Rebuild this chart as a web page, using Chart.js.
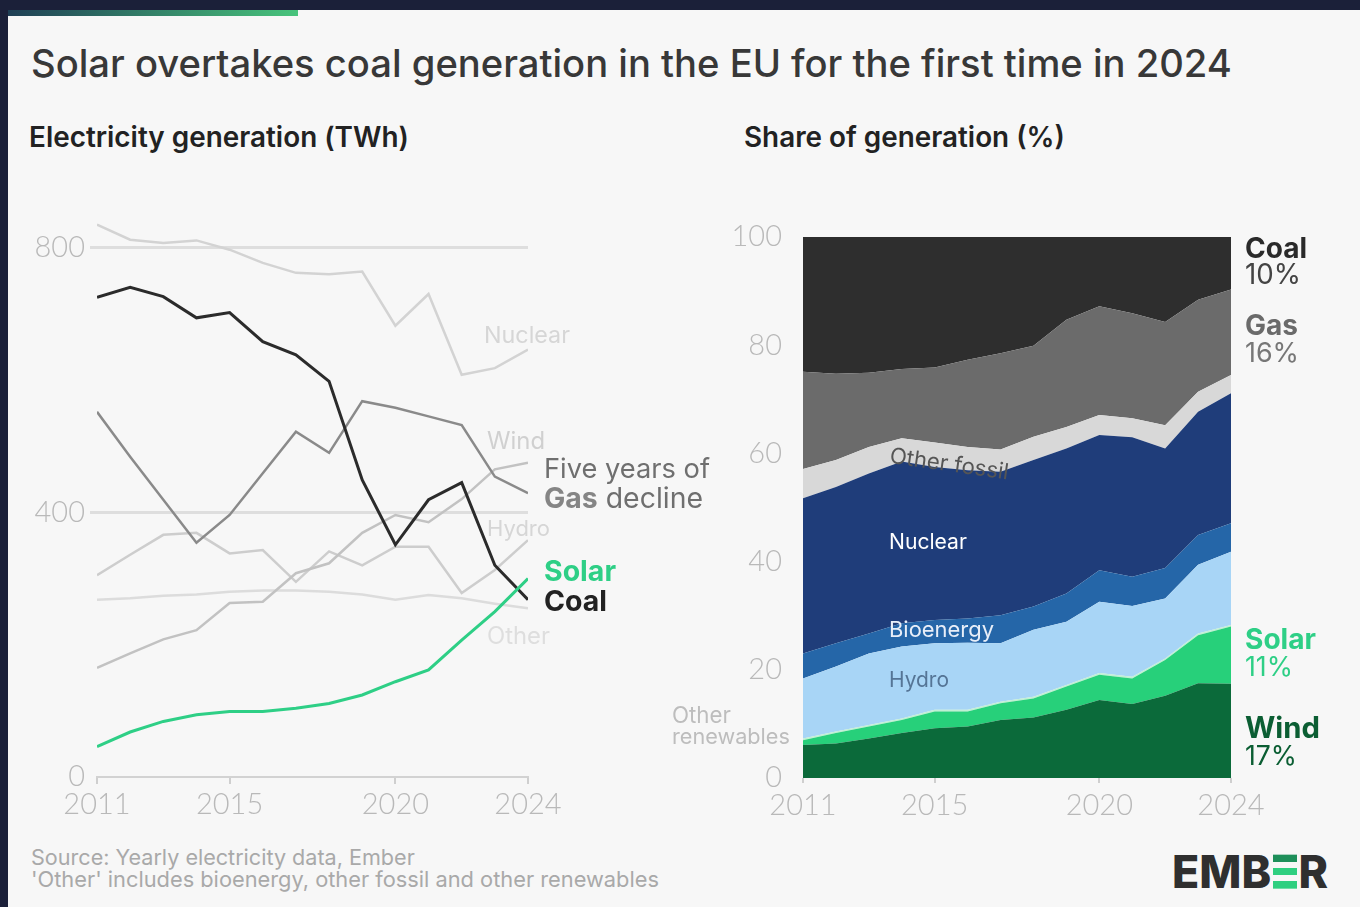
<!DOCTYPE html>
<html>
<head>
<meta charset="utf-8">
<script src="https://cdn.jsdelivr.net/npm/chart.js@4.4.1/dist/chart.umd.min.js"></script>
<style>
  html,body{margin:0;padding:0;}
  body{width:1360px;height:907px;background:#1b2039;position:relative;overflow:hidden;font-family:Inter, "Noto Sans", sans-serif;}
  #card{position:absolute;left:8px;top:10px;width:1352px;height:897px;background:#f7f7f7;}
  #bar{position:absolute;left:8px;top:10px;width:290px;height:6px;background:linear-gradient(90deg,#1f3f55,#48c47c);}
  .t{position:absolute;white-space:nowrap;line-height:1;transform:translateY(-50%);}
  canvas{position:absolute;}
  .logoE{position:relative;color:transparent;}
  .logoE::after{content:"";position:absolute;left:2px;right:1px;top:18%;bottom:18%;
    background:linear-gradient(180deg,#1e8f5a 0 22%,transparent 22% 39%,#2fcf80 39% 61%,transparent 61% 78%,#2fcf80 78% 100%);}
</style>
</head>
<body>
<div id="card"></div>
<div id="bar"></div>
<canvas id="left" width="620" height="660" style="left:0px;top:180px;"></canvas>
<canvas id="right" width="700" height="640" style="left:660px;top:200px;"></canvas>
<div id="texts"></div>
<script>
// ---------- data ----------
const years = [2011,2012,2013,2014,2015,2016,2017,2018,2019,2020,2021,2022,2023,2024];
const tickYears = [2011,2015,2020,2024];
const twhTicks = [0,400,800];
const shareTicks = [0,20,40,60,80,100];

// Electricity generation (TWh)
const nuclearTWh = [835,812,807,811,797,777,762,760,764,682,730,608,618,646];
const coalTWh    = [725,740,726,694,702,658,638,598,449,351,419,445,320,268];
const gasTWh     = [552,484,419,354,396,459,522,490,568,558,545,532,454,429];
const windTWh    = [165,187,208,222,263,265,308,323,369,396,385,420,465,475];
const hydroTWh   = [305,336,366,369,338,343,295,341,320,348,348,278,313,358];
const otherTWh   = [268,270,274,276,280,282,282,280,276,268,275,270,262,255];
const solarTWh   = [46,68,84,94,99,99,104,111,124,144,162,207,250,300];

// Share of generation (%)
const windPct        = [6.1,6.4,7.3,8.3,9.2,9.5,10.7,11.2,12.6,14.4,13.7,15.2,17.5,17.4];
const solarPct       = [0.9,1.9,2.2,2.4,3.1,2.8,3.1,3.5,4.3,4.7,4.7,6.6,8.9,10.6];
const otherRenPct    = [0.3,0.3,0.3,0.3,0.3,0.3,0.3,0.3,0.3,0.3,0.3,0.3,0.3,0.3];
const hydroPct       = [11.1,12.0,13.2,13.3,12.3,12.4,10.8,12.4,11.7,13.2,13.1,11.1,12.7,13.5];
const bioPct         = [4.6,4.3,3.7,4.3,4.3,4.5,5.2,4.3,5.2,5.8,5.4,5.6,5.5,5.3];
const nuclearPct     = [28.7,28.9,29.6,29.9,28.3,27.4,26.5,27.1,26.8,25.0,25.8,22.1,22.8,24.0];
const otherFossilPct = [5.4,5.0,4.9,4.3,4.5,4.3,4.1,4.3,4.0,3.7,3.5,4.3,3.7,3.4];
const gasPct         = [18.0,15.9,13.7,12.8,13.9,16.1,17.8,16.8,19.8,20.1,19.4,19.1,17.0,15.8];
const coalPct        = [24.9,25.3,25.1,24.4,24.1,22.7,21.5,20.1,15.3,12.8,14.1,15.7,11.6,9.7];

// ---------- helpers ----------
const pts = arr => arr.map((v,i)=>({x:years[i], y:v}));
const tickFont = {family:'Lato', size:29, weight:300};
const tickColor = '#b9b9b9';

function lineDs(label, arr, color, width){
  return {label, data:pts(arr), borderColor:color, borderWidth:width, pointRadius:0, tension:0, fill:false};
}
function areaDs(label, arr, color, fill){
  return {label, data:pts(arr), backgroundColor:color, borderColor:color, borderWidth:0, pointRadius:0, tension:0, fill};
}

// ---------- left chart ----------
new Chart(document.getElementById('left'), {
  type:'line',
  data:{datasets:[
    lineDs('Solar', solarTWh, '#2ecf86', 3),
    lineDs('Coal', coalTWh, '#2b2b2b', 3),
    lineDs('Gas', gasTWh, '#8a8a8a', 2.5),
    lineDs('Wind', windTWh, '#c2c2c2', 2.5),
    lineDs('Hydro', hydroTWh, '#cdcdcd', 2.5),
    lineDs('Nuclear', nuclearTWh, '#d3d3d3', 2.5),
    lineDs('Other', otherTWh, '#dcdcdc', 2.5),
  ]},
  options:{
    responsive:false, animation:false, events:[],
    plugins:{legend:{display:false}, tooltip:{enabled:false}},
    layout:{padding:{top:28, right:92, left:0, bottom:0}},
    scales:{
      x:{type:'linear', min:2011, max:2024,
        afterBuildTicks:s=>{s.ticks = tickYears.map(v=>({value:v}));},
        afterFit:s=>{s.height = 63;},
        grid:{drawOnChartArea:false, drawTicks:true, tickLength:7, color:'#cfcfcf', lineWidth:2},
        border:{display:true, color:'#d2d2d2', width:2},
        ticks:{color:tickColor, font:tickFont, padding:3, maxRotation:0, autoSkip:false, callback:v=>String(v)}},
      y:{min:0, max:860,
        afterBuildTicks:s=>{s.ticks = twhTicks.map(v=>({value:v}));},
        afterFit:s=>{s.width = 97;},
        grid:{color:c=> (c.tick && c.tick.value===0) ? 'rgba(0,0,0,0)' : '#dedede', lineWidth:3, drawTicks:true, tickLength:7},
        border:{display:false},
        ticks:{color:tickColor, font:tickFont, padding:5, callback:v=>String(v)}}
    }
  }
});

// ---------- right chart ----------
new Chart(document.getElementById('right'), {
  type:'line',
  data:{datasets:[
    areaDs('Wind', windPct, '#0b6a3a', 'origin'),
    areaDs('Solar', solarPct, '#27d07a', '-1'),
    areaDs('Other renewables', otherRenPct, '#bff0d3', '-1'),
    areaDs('Hydro', hydroPct, '#a8d5f6', '-1'),
    areaDs('Bioenergy', bioPct, '#2566a8', '-1'),
    areaDs('Nuclear', nuclearPct, '#1f3d7a', '-1'),
    areaDs('Other fossil', otherFossilPct, '#d8d8d8', '-1'),
    areaDs('Gas', gasPct, '#6b6b6b', '-1'),
    areaDs('Coal', coalPct, '#2e2e2e', '-1'),
  ]},
  options:{
    responsive:false, animation:false, events:[],
    plugins:{legend:{display:false}, tooltip:{enabled:false}},
    layout:{padding:{top:37, right:129, left:0, bottom:0}},
    scales:{
      x:{type:'linear', min:2011, max:2024,
        afterBuildTicks:s=>{s.ticks = tickYears.map(v=>({value:v}));},
        afterFit:s=>{s.height = 62;},
        grid:{drawOnChartArea:false, drawTicks:true, tickLength:5, color:'#cfcfcf', lineWidth:2},
        border:{display:false},
        ticks:{color:tickColor, font:tickFont, padding:5, maxRotation:0, autoSkip:false, callback:v=>String(v)}},
      y:{min:0, max:100, stacked:true,
        afterBuildTicks:s=>{s.ticks = shareTicks.map(v=>({value:v}));},
        afterFit:s=>{s.width = 143;},
        grid:{display:false}, border:{display:false},
        ticks:{color:tickColor, font:tickFont, padding:13, callback:v=>String(v)}}
    }
  }
});

// ---------- texts ----------
const T = [
  {h:'Solar overtakes coal generation in the EU for the first time in 2024', x:31, y:63, s:35, w:1201, c:'#383838', fw:500},
  {h:'Electricity generation (TWh)', x:29, y:138, s:23, w:380, c:'#222', fw:600},
  {h:'Share of generation (%)', x:744, y:138, s:23, w:321, c:'#222', fw:600},
  {h:'Nuclear', x:484, y:335, s:19, w:86, c:'#d6d6d6', fw:400},
  {h:'Wind', x:487, y:441, s:19, w:58, c:'#d0d0d0', fw:400},
  {h:'Hydro', x:487, y:528, s:19, w:63, c:'#d6d6d6', fw:400},
  {h:'Other', x:487, y:636, s:19, w:63, c:'#dedede', fw:400},
  {h:'Five years of', x:544, y:469, s:25, w:166, c:'#6f6f6f', fw:400},
  {h:'<b style="color:#858585;font-weight:700">Gas</b> decline', x:544, y:498, s:25, w:159, c:'#6f6f6f', fw:400},
  {h:'Solar', x:544, y:571, s:25, w:72, c:'#2ecf86', fw:700},
  {h:'Coal', x:544, y:601, s:25, w:63, c:'#222', fw:700},
  {h:'Coal', x:1245, y:248, s:26, w:62, c:'#2a2a2a', fw:700},
  {h:'10%', x:1245, y:275, s:26, w:56, c:'#444', fw:400},
  {h:'Gas', x:1245, y:325, s:26, w:53, c:'#6a6a6a', fw:700},
  {h:'16%', x:1245, y:352, s:26, w:54, c:'#777', fw:400},
  {h:'Solar', x:1245, y:639, s:26, w:71, c:'#2ecf86', fw:700},
  {h:'11%', x:1245, y:666, s:26, w:48, c:'#2ecf86', fw:400},
  {h:'Wind', x:1245, y:728, s:26, w:75, c:'#0b5e33', fw:700},
  {h:'17%', x:1245, y:755, s:26, w:52, c:'#0b5e33', fw:400},
  {h:'Other fossil', x:890, y:455, s:17, w:120, c:'#555', fw:400, rot:8},
  {h:'Nuclear', x:889, y:542, s:18, w:78, c:'#ffffff', fw:400},
  {h:'Bioenergy', x:889, y:630, s:18, w:105, c:'#e8eef8', fw:400},
  {h:'Hydro', x:889, y:680, s:18, w:60, c:'#557596', fw:400},
  {h:'Other', x:672, y:715, s:19, w:59, c:'#bdbdbd', fw:400},
  {h:'renewables', x:672, y:737, s:19, w:118, c:'#bdbdbd', fw:400},
  {h:'Source: Yearly electricity data, Ember', x:31, y:858, s:17, w:384, c:'#a9a9a9', fw:400},
  {h:"'Other' includes bioenergy, other fossil and other renewables", x:31, y:880, s:17, w:628, c:'#a9a9a9', fw:400},
  {h:'EMB<span class="logoE">E</span>R', x:1172, y:872, s:38, w:156, c:'#2f2f2f', fw:800},
];
const box = document.getElementById('texts');
T.forEach(o=>{
  const d = document.createElement('div');
  d.className = 't';
  d.innerHTML = o.h;
  d.style.left = o.x+'px';
  d.style.top = o.y+'px';
  d.style.fontSize = o.s+'px';
  d.style.color = o.c;
  d.style.fontWeight = o.fw;
  box.appendChild(d);
  const w = d.getBoundingClientRect().width;
  if (w>0) d.style.fontSize = (o.s*o.w/w).toFixed(2)+'px';
  if (o.rot) { d.style.transformOrigin='left center'; d.style.transform='translateY(-50%) rotate('+o.rot+'deg)'; }
});
</script>
</body>
</html>
